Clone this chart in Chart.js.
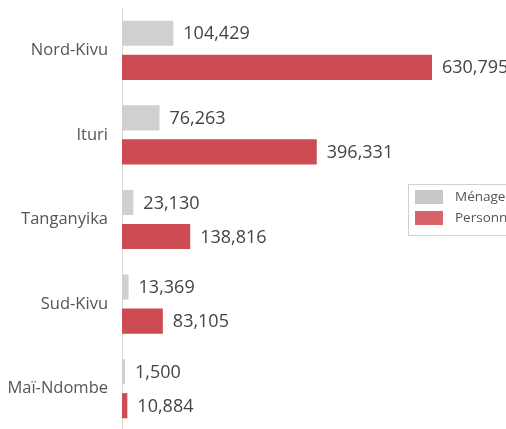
<!DOCTYPE html>
<html>
<head>
<meta charset="utf-8">
<script src="https://cdn.jsdelivr.net/npm/chart.js@4/dist/chart.umd.min.js"></script>
<style>
  html, body { margin: 0; padding: 0; background: #fff; overflow: hidden; }
  #wrap { width: 506px; height: 431px; }
</style>
</head>
<body>
<div id="wrap"><canvas id="chart" width="506" height="431"></canvas></div>
<script>
const provinces = ['Nord-Kivu', 'Ituri', 'Tanganyika', 'Sud-Kivu', 'Maï-Ndombe'];
const menages = [104429, 76263, 23130, 13369, 1500];
const personnes = [630795, 396331, 138816, 83105, 10884];
const seriesNames = ['Ménages', 'Personnes'];

const barColors = ['#d0d0d0', '#cd4b53'];
const legendColors = ['#c8c8c8', '#d8636b'];
const fontFamily = '"Open Sans", "Segoe UI", sans-serif';

// value labels to the right of each bar
const valueLabels = {
    id: 'valueLabels',
    afterDatasetsDraw(chart) {
        const ctx = chart.ctx;
        ctx.save();
        ctx.font = '18px ' + fontFamily;
        ctx.fillStyle = '#444';
        ctx.textAlign = 'left';
        ctx.textBaseline = 'middle';
        chart.data.datasets.forEach((ds, i) => {
            chart.getDatasetMeta(i).data.forEach((bar, j) => {
                ctx.fillText(ds.data[j].toLocaleString('en-US'), bar.x + 10, bar.y + 1);
            });
        });
        ctx.restore();
    }
};

// boxed legend sitting over the plot, as in the original
const boxLegend = {
    id: 'boxLegend',
    afterDraw(chart) {
        const ctx = chart.ctx;
        const left = 408, top = 184;
        ctx.save();
        ctx.fillStyle = '#fff';
        ctx.fillRect(left, top, 130, 51);
        ctx.strokeStyle = '#d0d0d0';
        ctx.lineWidth = 1;
        ctx.strokeRect(left + 0.5, top + 0.5, 130, 51);
        ctx.font = '13.5px ' + fontFamily;
        ctx.textBaseline = 'middle';
        chart.data.datasets.forEach((ds, i) => {
            const y = top + 6 + i * 21;
            ctx.fillStyle = legendColors[i];
            ctx.fillRect(left + 7, y, 28, 14);
            ctx.fillStyle = '#555';
            ctx.fillText(ds.label, left + 47, y + 7);
        });
        ctx.restore();
    }
};

new Chart(document.getElementById('chart').getContext('2d'), {
    type: 'bar',
    data: {
        labels: provinces,
        datasets: [
            { label: seriesNames[0], data: menages, backgroundColor: barColors[0] },
            { label: seriesNames[1], data: personnes, backgroundColor: barColors[1] }
        ]
    },
    options: {
        indexAxis: 'y',
        responsive: false,
        animation: false,
        categoryPercentage: 0.805,
        barPercentage: 0.74,
        minBarLength: 3,
        layout: { padding: { top: 8, right: 40, bottom: 0, left: 0 } },
        scales: {
            x: { display: false, min: 0, max: 700000 },
            y: {
                afterFit(scale) {
                    scale.width = 122;
                    scale.paddingTop = 0;
                    scale.paddingBottom = 0;
                },
                grid: { display: false, drawTicks: false },
                border: { display: true, color: '#d9d9d9', width: 1 },
                ticks: {
                    padding: 14,
                    color: '#555',
                    font: { family: fontFamily, size: 16.5 }
                }
            }
        },
        plugins: {
            legend: { display: false },
            tooltip: { enabled: false }
        }
    },
    plugins: [valueLabels, boxLegend]
});
</script>
</body>
</html>
